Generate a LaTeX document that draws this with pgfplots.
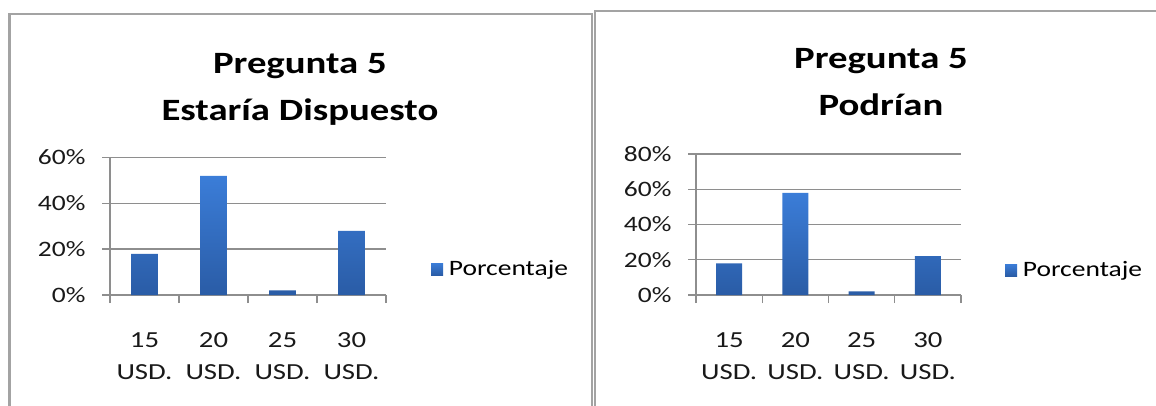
\documentclass[border=0pt]{standalone}
\usepackage{fontspec}
\setmainfont{Carlito}[FakeStretch=1.25]
\usepackage{pgfplots}
\pgfplotsset{compat=1.18}

\definecolor{barTop}{HTML}{3B7DD8}
\definecolor{barBot}{HTML}{2A5CA6}
\definecolor{gridGray}{HTML}{8E8E8E}
\definecolor{frameGray}{HTML}{A3A3A3}

\pgfplotsset{
  pregunta/.style={
    scale only axis, anchor=south west,
    ybar, bar width=0.39,
    xmin=-0.5, xmax=3.5, ymin=0,
    xtick={0,1,2,3},
    xticklabels={{15\\USD.},{20\\USD.},{25\\USD.},{30\\USD.}},
    xticklabel style={align=center, font=\fontsize{23}{32}\selectfont, text=black!90, yshift=-26pt},
    major x tick style={draw=none},
    minor xtick={-0.5,0.5,1.5,2.5,3.5},
    tick align=outside, major tick length=8pt, minor tick length=8pt,
    every tick/.style={gridGray, line width=1.4pt},
    ymajorgrids, grid style={gridGray, line width=1.4pt},
    axis x line*=bottom, axis y line*=left,
    axis line style={gridGray, line width=1.4pt, -},
    yticklabel style={font=\fontsize{22}{26}\selectfont, text=black!90, xshift=-13pt},
    title style={align=center, font=\bfseries\fontsize{31}{47}\selectfont, anchor=center},
    legend style={draw=none, fill=none, anchor=west, inner sep=0pt,
      font=\fontsize{22}{26}\selectfont, legend cell align=left},
    legend image code/.code={\fill[barTop!85!barBot] (0pt,-6pt) rectangle (12pt,6pt);},
  }
}

\begin{document}
\begin{tikzpicture}
\useasboundingbox (0pt,0pt) rectangle (1156pt,405pt);
% marcos de los graficos
\draw[frameGray, line width=2.5pt] (9.5pt,-5pt) -- (9.5pt,391pt) -- (592pt,391pt) -- (592pt,-5pt);
\draw[frameGray, line width=2.5pt] (595pt,-5pt) -- (595pt,394pt) -- (1170pt,394pt);

% Estaria dispuesto
\begin{axis}[pregunta, at={(110pt,110pt)}, width=276pt, height=137.5pt,
    ymax=60, ytick={0,20,40,60},
    yticklabels={0\%,20\%,40\%,60\%},
    title={Pregunta 5\\Estaría Dispuesto},
    title style={at={(axis description cs:0.688,1.455)}},
    legend style={at={(axis description cs:1.163,0.188)}}]
  \addplot[ybar, draw=none, top color=barTop, bottom color=barBot]
    coordinates {(0,18) (1,52) (2,2) (3,28)};
  \legend{\,Porcentaje}
\end{axis}

% Podrian
\begin{axis}[pregunta, at={(696pt,110pt)}, width=265pt, height=141pt,
    ymax=80, ytick={0,20,40,60,80},
    yticklabels={0\%,20\%,40\%,60\%,80\%},
    title={Pregunta 5\\Podrían},
    title style={at={(axis description cs:0.698,1.47)}},
    legend style={at={(axis description cs:1.166,0.177)}}]
  \addplot[ybar, draw=none, top color=barTop, bottom color=barBot]
    coordinates {(0,18) (1,58) (2,2) (3,22)};
  \legend{\,Porcentaje}
\end{axis}
\end{tikzpicture}
\end{document}
